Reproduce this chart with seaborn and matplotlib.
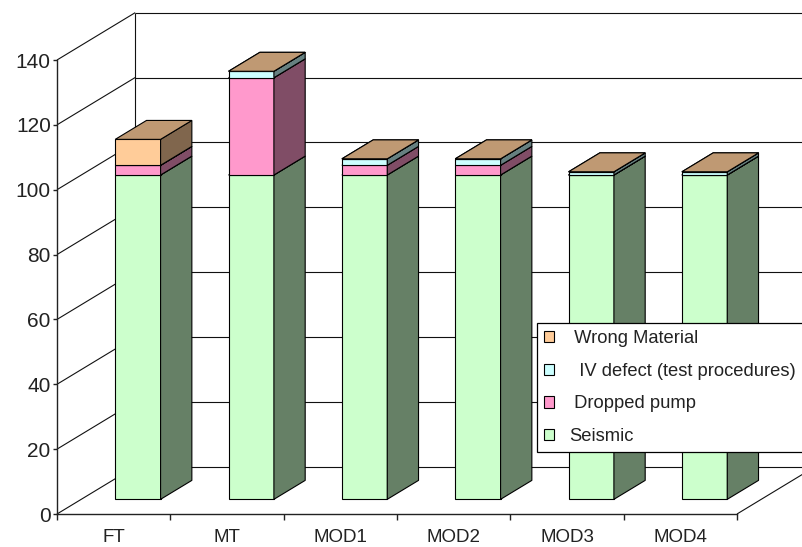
import numpy as np
import matplotlib
matplotlib.use("Agg")
import matplotlib.pyplot as plt
import matplotlib.colors as mcolors
from matplotlib.patches import Polygon, Patch
from matplotlib.ticker import FixedLocator
import seaborn as sns

# ---- data -------------------------------------------------------------
categories = ["FT", "MT", "MOD1", "MOD2", "MOD3", "MOD4"]
seismic = [100, 100, 100, 100, 100, 100]
dropped_pump = [3, 30, 3, 3, 0, 0]
iv_defect = [0, 2, 2, 2, 1, 1]
wrong_material = [8, 0, 0, 0, 0, 0]

series_values = [seismic, dropped_pump, iv_defect, wrong_material]
series_labels = ["Seismic", " Dropped pump", "  IV defect (test procedures)", " Wrong Material"]
series_colors = ["#CCFFCC", "#FF99CC", "#CCFFFF", "#FFCC99"]

y_ticks = [0, 20, 40, 60, 80, 100, 120, 140]

# ---- 3-D box geometry (data units) -------------------------------------
WALL_DX = 0.69      # depth of the box along x (categories)
WALL_DY = 14.6      # depth of the box along y (value units)
BAR_FRONT = 0.31    # bar front face position as fraction of box depth
BAR_DEPTH = 0.40    # bar depth as fraction of box depth
BAR_WIDTH = 0.40

sns.set_style("white")
plt.rcParams["font.family"] = ["Liberation Sans", "DejaVu Sans"]

fig = plt.figure(figsize=(8.02, 5.47), dpi=100)
ax = fig.add_axes([57 / 802, 33 / 547, 680 / 802, 454 / 547])
ax.set_facecolor("none")

x0, x1 = -0.5, len(categories) - 0.5
ymax = y_ticks[-1]
grid_kw = dict(color="#111111", lw=0.8, clip_on=False, zorder=1, solid_capstyle="butt")

# side wall and back wall gridlines
for v in y_ticks:
    ax.plot([x0, x0 + WALL_DX], [v, v + WALL_DY], **grid_kw)
    ax.plot([x0 + WALL_DX, x1 + WALL_DX + 0.5], [v + WALL_DY, v + WALL_DY], **grid_kw)
ax.plot([x0 + WALL_DX, x0 + WALL_DX], [WALL_DY, ymax + WALL_DY], **grid_kw)
# right edge of the floor
ax.plot([x1, x1 + WALL_DX], [0, WALL_DY], **grid_kw)


def shade(color, factor):
    r, g, b = mcolors.to_rgb(color)
    return (r * factor, g * factor, b * factor)


ox, oy = BAR_FRONT * WALL_DX, BAR_FRONT * WALL_DY
ddx, ddy = BAR_DEPTH * WALL_DX, BAR_DEPTH * WALL_DY

bottom = np.zeros(len(categories))
zo = 3
for vals, color in zip(series_values, series_colors):
    n_before = len(ax.patches)
    sns.barplot(x=categories, y=vals, order=categories, color=color,
                saturation=1, width=BAR_WIDTH, errorbar=None,
                bottom=bottom, edgecolor="black", linewidth=0.8, ax=ax)
    for bar in list(ax.patches[n_before:]):
        x, y = bar.get_x(), bar.get_y()
        w, h = bar.get_width(), bar.get_height()
        fx, fy = x + ox, y + oy
        bar.set_x(fx)
        bar.set_y(fy)
        bar.set_clip_on(False)
        bar.set_zorder(zo)
        side = Polygon([(fx + w, fy), (fx + w + ddx, fy + ddy),
                        (fx + w + ddx, fy + h + ddy), (fx + w, fy + h)],
                       closed=True, facecolor=shade(color, 0.5),
                       edgecolor="black", linewidth=0.8, zorder=zo + 0.1,
                       clip_on=False)
        top = Polygon([(fx, fy + h), (fx + w, fy + h),
                       (fx + w + ddx, fy + h + ddy), (fx + ddx, fy + h + ddy)],
                      closed=True, facecolor=shade(color, 0.75),
                      edgecolor="black", linewidth=0.8, zorder=zo + 0.2,
                      clip_on=False)
        ax.add_patch(side)
        ax.add_patch(top)
    bottom = bottom + np.asarray(vals, dtype=float)
    zo += 1

# ---- axes -------------------------------------------------------------
ax.set_xlim(x0, x1)
ax.set_ylim(0, ymax)
ax.set_xlabel("")
ax.set_ylabel("")
ax.set_yticks(y_ticks)
ax.set_xticks(range(len(categories)))
ax.set_xticklabels(categories)
ax.xaxis.set_minor_locator(FixedLocator(np.arange(x0, x1 + 0.01, 1.0)))

for side_name in ["top", "right"]:
    ax.spines[side_name].set_visible(False)
for side_name in ["left", "bottom"]:
    ax.spines[side_name].set_color("#222222")
    ax.spines[side_name].set_linewidth(1.0)
    ax.spines[side_name].set_zorder(2)

ax.tick_params(axis="y", which="major", direction="out", length=3, width=1.0,
               color="#222222", pad=1.5, labelsize=15, labelcolor="#222222", left=True)
ax.tick_params(axis="x", which="major", length=0, pad=11, labelsize=13.5,
               labelcolor="#222222", bottom=True)
ax.tick_params(axis="x", which="minor", direction="out", length=4.5, width=1.0,
               color="#222222", bottom=True)

# ---- legend -----------------------------------------------------------
handles = [Patch(facecolor=c, edgecolor="black", linewidth=0.8)
           for c in series_colors][::-1]
labels = series_labels[::-1]
leg = ax.legend(handles, labels, loc="upper left",
                bbox_to_anchor=(537 / 802, 1 - 323 / 547),
                bbox_transform=fig.transFigure, borderaxespad=0,
                fontsize=13.2, frameon=True, fancybox=False, shadow=False,
                framealpha=1.0, borderpad=0.4, handlelength=0.55,
                handleheight=0.55, handletextpad=0.8, labelspacing=0.85)
leg.get_frame().set_edgecolor("black")
leg.get_frame().set_linewidth(0.9)
leg.get_frame().set_facecolor("white")
leg.set_zorder(20)
for t in leg.get_texts():
    t.set_color("#222222")

fig.savefig("out.png", dpi=100, facecolor="white")
